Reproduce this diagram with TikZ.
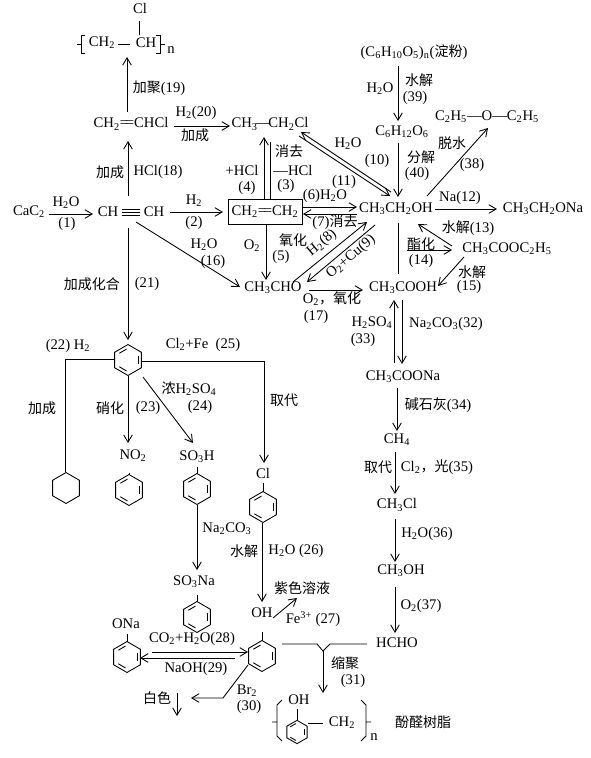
\documentclass[tikz,border=0pt]{standalone}
\usepackage{fontspec}
\setmainfont{Liberation Serif}
\newfontfamily\cjk{Noto Sans CJK SC}
\usetikzlibrary{arrows.meta, calc, shapes.geometric}
\newcommand{\zh}[1]{{\cjk\fontsize{10.5}{12}\selectfont #1}}
\newcommand{\dn}[1]{\textsubscript{#1}}
\newcommand{\dbl}{=\kern-0.15em=}
\newcommand{\kekule}[2]{%
    \foreach \a/\b in {-98/-142, -218/-262, -338/-22}
        \draw[bond] ($(#1)+(\a:#2)$) -- ($(#1)+(\b:#2)$);}
\tikzset{
    bond/.style={line width=0.65pt},
    ring/.style={draw, line width=0.65pt, regular polygon, regular polygon sides=6,
        shape border rotate=30, minimum size=23.2pt, inner sep=0pt},
    smallring/.style={ring, minimum size=17.5pt}
}

\begin{document}
\begin{tikzpicture}[x=0.75pt, y=-0.75pt, >={Straight Barb[length=5.5pt,width=6.5pt]},
      every node/.style={font=\fontsize{11}{13}\selectfont, inner sep=0pt}]
    \useasboundingbox (0,0) rectangle (591,758);

    \node (pvccl) at (140,8) {Cl};
    \node (pvcch2) at (102,43) {CH\dn{2}};
    \node (pvcch) at (146,43) {CH};
    \node (pvcn) at (171,50) {n};
    \node (vc) at (131,124) {CH\dn{2}\dbl CHCl};
    \node (chl) at (270,124) {CH\dn{3}\kern-1.5pt—\kern-1.5ptCH\dn{2}Cl};
    \node (cac) at (29,212) {CaC\dn{2}};
    \node (ch1) at (108,212) {CH};
    \node (ch2) at (154,212) {CH};
    \node[draw, line width=0.65pt, minimum width=55.5pt, minimum height=18.75pt] (eth) at (265,212) {CH\dn{2}\dbl CH\dn{2}};
    \node (ald) at (273,288) {CH\dn{3}CHO};
    \node (etoh) at (396,209) {CH\dn{3}CH\dn{2}OH};
    \node (aa) at (403,288) {CH\dn{3}COOH};
    \node (starch) at (414,52) {(C\dn{6}H\dn{10}O\dn{5})\dn{n}(\zh{淀粉})};
    \node (gluc) at (402,132) {C\dn{6}H\dn{12}O\dn{6}};
    \node (ether) at (487,117) {C\dn{2}H\dn{5}—O—C\dn{2}H\dn{5}};
    \node (etona) at (543,209) {CH\dn{3}CH\dn{2}ONa};
    \node (ester) at (507,249) {CH\dn{3}COOC\dn{2}H\dn{5}};
    \node (sa) at (403,377) {CH\dn{3}COONa};
    \node (ch4) at (397,440) {CH\dn{4}};
    \node (mecl) at (397,505) {CH\dn{3}Cl};
    \node (meoh) at (401,571) {CH\dn{3}OH};
    \node (hcho) at (397,643) {HCHO};

    \node[ring] (benz) at (128,360) {};
    \node[ring] (cy) at (66,488) {};
    \node (nitro) at (133,456) {NO\dn{2}};
    \node[ring] (nitroring) at (129,490) {};
    \node (sulf) at (197,457) {SO\dn{3}H};
    \node[ring] (sulfring) at (197,489) {};
    \node (clb) at (263,473) {Cl};
    \node[ring] (clring) at (263,507) {};
    \node (sna) at (194,582) {SO\dn{3}Na};
    \node[ring] (snaring) at (197,617) {};
    \node (oh) at (262,613) {OH};
    \node[ring] (phring) at (262,656) {};
    \node (ona) at (126,624) {ONa};
    \node[ring] (onaring) at (127,657) {};
    \node (white) at (157,698) {\zh{白色}};
    \node (vio) at (302,588) {\zh{紫色溶液}};
    \node (polyoh) at (299,700) {OH};
    \node[smallring] (polyring) at (297,732) {};
    \node (polych2) at (342,723) {CH\dn{2}};
    \node (polyn) at (374,737) {n};
    \node (resin) at (423,722) {\zh{酚醛树脂}};
    \coordinate (ppt) at (177,716);
    \coordinate (cond) at (323,651);

    \foreach \r in {benz, nitroring, sulfring, clring, snaring, phring, onaring}
        \kekule{\r}{11};
    \kekule{polyring}{8.5}

    \node (l19) at (159,88) {\zh{加聚}(19)};
    \node (l20a) at (196,113) {H\dn{2}(20)};
    \node (l20b) at (195,135) {\zh{加成}};
    \node (l18a) at (110,172) {\zh{加成}};
    \node (l18b) at (158,172) {HCl(18)};
    \node (l1a) at (66,203) {H\dn{2}O};
    \node (l1b) at (67,224) {(1)};
    \node (l2a) at (194,201) {H\dn{2}};
    \node (l2b) at (194,223) {(2)};
    \node (l4a) at (242,170) {+HCl};
    \node (l4b) at (247,188) {(4)};
    \node (l3a) at (289,151) {\zh{消去}};
    \node (l3b) at (293,170) {—HCl};
    \node (l3c) at (286,186) {(3)};
    \node (l5a) at (252,246) {O\dn{2}};
    \node (l5b) at (281,257) {(5)};
    \node (l5c) at (293,240) {\zh{氧化}};
    \node (l6) at (325,196) {(6)H\dn{2}O};
    \node (l7) at (335,222) {(7)\zh{消去}};
    \node (l10a) at (348,144) {H\dn{2}O};
    \node (l10b) at (377,161) {(10)};
    \node (l11) at (344,182) {(11)};
    \node[rotate=40] (l8) at (322,243) {H\dn{2}(8)};
    \node[rotate=40] (l9) at (351,257) {O\dn{2}+Cu(9)};
    \node (l16a) at (204,245) {H\dn{2}O};
    \node (l16b) at (213,262) {(16)};
    \node (l17a) at (332,299) {O\dn{2}\zh{\char"FF0C 氧化}};
    \node (l17b) at (316,317) {(17)};
    \node (l39a) at (380,89) {H\dn{2}O};
    \node (l39b) at (419,80) {\zh{水解}};
    \node (l39c) at (415,98) {(39)};
    \node (l40a) at (421,157) {\zh{分解}};
    \node (l40b) at (417,174) {(40)};
    \node (l38a) at (452,143) {\zh{脱水}};
    \node (l38b) at (472,165) {(38)};
    \node (l12) at (460,198) {Na(12)};
    \node (l13) at (468,228) {\zh{水解}(13)};
    \node (l14a) at (421,244) {\zh{酯化}};
    \node (l14b) at (421,261) {(14)};
    \node (l15a) at (472,272) {\zh{水解}};
    \node (l15b) at (469,287) {(15)};
    \node (l33a) at (372,323) {H\dn{2}SO\dn{4}};
    \node (l33b) at (363,340) {(33)};
    \node (l32) at (446,324) {Na\dn{2}CO\dn{3}(32)};
    \node (l34) at (438,405) {\zh{碱石灰}(34)};
    \node (l35a) at (378,467) {\zh{取代}};
    \node (l35b) at (437,467) {Cl\dn{2}\zh{\char"FF0C 光}(35)};
    \node (l36) at (427,534) {H\dn{2}O(36)};
    \node (l37) at (421,606) {O\dn{2}(37)};
    \node (l21a) at (92,284) {\zh{加成化合}};
    \node (l21b) at (147,284) {(21)};
    \node (l22a) at (68,346) {(22) H\dn{2}};
    \node (l22b) at (42,408) {\zh{加成}};
    \node (l23a) at (110,408) {\zh{硝化}};
    \node (l23b) at (148,408) {(23)};
    \node (l24a) at (189,389) {\zh{浓}H\dn{2}SO\dn{4}};
    \node (l24b) at (200,407) {(24)};
    \node (l25a) at (203,345) {Cl\dn{2}+Fe\ \ (25)};
    \node (l25b) at (284,400) {\zh{取代}};
    \node (lna) at (227,529) {Na\dn{2}CO\dn{3}};
    \node (l26a) at (244,551) {\zh{水解}};
    \node (l26b) at (296,551) {H\dn{2}O (26)};
    \node (l27) at (313,619) {Fe\textsuperscript{3+} (27)};
    \node (l28) at (192,639) {CO\dn{2}+H\dn{2}O(28)};
    \node (l29) at (196,669) {NaOH(29)};
    \node (l30a) at (247,691) {Br\dn{2}};
    \node (l30b) at (249,707) {(30)};
    \node (l31a) at (345,663) {\zh{缩聚}};
    \node (l31b) at (353,681) {(31)};

    \begin{scope}[bond]
    \draw ($(pvccl)+(-1,13)$) -- ($(pvcch)+(-7,-8)$);
    \draw ($(pvcch2)+(16,1)$) -- ($(pvcch)+(-16,1)$);
    \draw[->] ($(vc)+(-4,-12)$) -- ($(pvcch2)+(25,14)$);
    \draw[->] ($(ch1)+(20,-16)$) -- ($(vc)+(-3,17)$);
    \draw[->] ($(vc)+(43,2)$) -- ($(chl)+(-40,2)$);
    \draw[->] ($(cac)+(20,2)$) -- ($(ch1)+(-15,2)$);
    \draw[->] ($(ch2)+(16,0)$) -- ($(eth)+(-42,0)$);
    \foreach \d in {-3,0,3}
        \draw ($(ch1)+(14,\d)$) -- ($(ch2)+(-14,\d)$);
    \draw[->] ($(eth)+(-1,-13)$) -- ($(chl)+(-6,13)$);
    \draw ($(chl)+(0,18)$) -- ($(eth)+(5,-13)$);
    \draw[->] ($(eth)+(1,12)$) -- ($(ald)+(-7,-8)$);
    \draw[->] ($(eth)+(38,-5)$) -- ($(etoh)+(-39,-2)$);
    \draw[->] ($(etoh)+(-39,5)$) -- ($(eth)+(38,2)$);
    \draw[->] ($(chl)+(29,12)$) -- ($(etoh)+(-6,-13)$);
    \draw[->] ($(etoh)+(-5,-17)$) -- ($(chl)+(31,8)$);
    \draw[->] ($(ald)+(20,-6)$) -- ($(etoh)+(-29,13)$);
    \draw[->] ($(etoh)+(-21,16)$) -- ($(ald)+(34,-6)$);
    \draw[->] ($(ald)+(36,2)$) -- ($(aa)+(-40,2)$);
    \draw[->] ($(ch2)+(-18,10)$) -- ($(ald)+(-33,-1)$);
    \draw[->] ($(starch)+(-16,14)$) -- ($(gluc)+(-4,-11)$);
    \draw[->] ($(gluc)+(-4,11)$) -- ($(etoh)+(2,-12)$);
    \draw[->] ($(etoh)+(31,-13)$) -- ($(ether)+(1,11)$);
    \draw[->] ($(etoh)+(39,0)$) -- ($(etona)+(-46,0)$);
    \draw[->] ($(ester)+(-55,-3)$) -- ($(etoh)+(22,15)$);
    \draw[->] ($(etoh)+(11,41)$) -- ($(ester)+(-55,1)$);
    \draw ($(etoh)+(2,14)$) -- ($(aa)+(-5,-14)$);
    \draw[->] ($(ester)+(-43,8)$) -- ($(aa)+(35,-2)$);
    \draw[->] ($(aa)+(-1,12)$) -- ($(sa)+(-1,-13)$);
    \draw[->] ($(sa)+(-9,-14)$) -- ($(aa)+(-9,12)$);
    \draw[->] ($(sa)+(-6,11)$) -- ($(ch4)+(0,-9)$);
    \draw[->] ($(ch4)+(-2,12)$) -- ($(mecl)+(-2,-11)$);
    \draw[->] ($(mecl)+(-2,14)$) -- ($(meoh)+(-6,-9)$);
    \draw[->] ($(meoh)+(-6,16)$) -- ($(hcho)+(-2,-10)$);

    \draw[->] ($(ch1)+(20,16)$) -- ($(benz)+(0,-20)$);
    \draw ($(benz)+(-14,-1)$) -| ($(cy)+(-1,-16)$);
    \draw[->] ($(benz)+(14,1)$) -| ($(clb)+(1,-10)$);
    \draw[->] ($(benz)+(0,16)$) -- ($(nitro)+(-5,-13)$);
    \draw[->] ($(benz)+(15,17)$) -- ($(sulf)+(-4,-14)$);
    \draw ($(nitro)+(-4,17)$) -- ($(nitroring)+(0,-15)$);
    \draw ($(sulf)+(0,10)$) -- ($(sulfring)+(0,-15)$);
    \draw ($(clb)+(0,10)$) -- ($(clring)+(0,-15)$);
    \draw[->] ($(sulfring)+(0,16)$) -- ($(sna)+(3,-12)$);
    \draw ($(sna)+(3,13)$) -- ($(snaring)+(0,-15)$);
    \draw[->] ($(clring)+(-1,16)$) -- ($(oh)+(0,-11)$);
    \draw[->] ($(oh)+(11,5)$) -- ($(vio)+(-5,10)$);
    \draw ($(oh)+(0,19)$) -- ($(phring)+(0,-15)$);
    \draw ($(ona)+(1,10)$) -- ($(onaring)+(0,-15)$);
    \draw[->] ($(onaring)+(25,-5)$) -- ($(phring)+(-14,-4)$);
    \draw[->] ($(phring)+(-27,2)$) -- ($(onaring)+(13,1)$);
    \draw[->] ($(phring)+(-14,9)$) -- (223,698) -- ($(white)+(34,0)$);
    \draw[->] ($(white)+(20,-5)$) -- (ppt);
    \draw ($(phring)+(20,-12)$) -- (317,644) -- (cond) -- (330,644) -- ($(hcho)+(-30,1)$);
    \draw[->] (cond) -- ($(polych2)+(-19,-30)$);

    \draw (85,35) -- (81,35) -- (81,53) -- (85,53) (77,44) -- (81,44);
    \draw (156,35) -- (160,35) -- (160,53) -- (156,53) (160,44) -- (165,44);
    \draw (282,700) -- (277,705) -- (277,736) -- (282,741) (272,722) -- (277,722);
    \draw (361,700) -- (366,705) -- (366,736) -- (361,741) (366,722) -- (371,722);
    \draw ($(polyoh)+(-2,9)$) -- ($(polyring)+(0,-12)$);
    \draw ($(polyring)+(11,-9)$) -- ($(polych2)+(-19,0)$);
    \end{scope}
\end{tikzpicture}
\end{document}
